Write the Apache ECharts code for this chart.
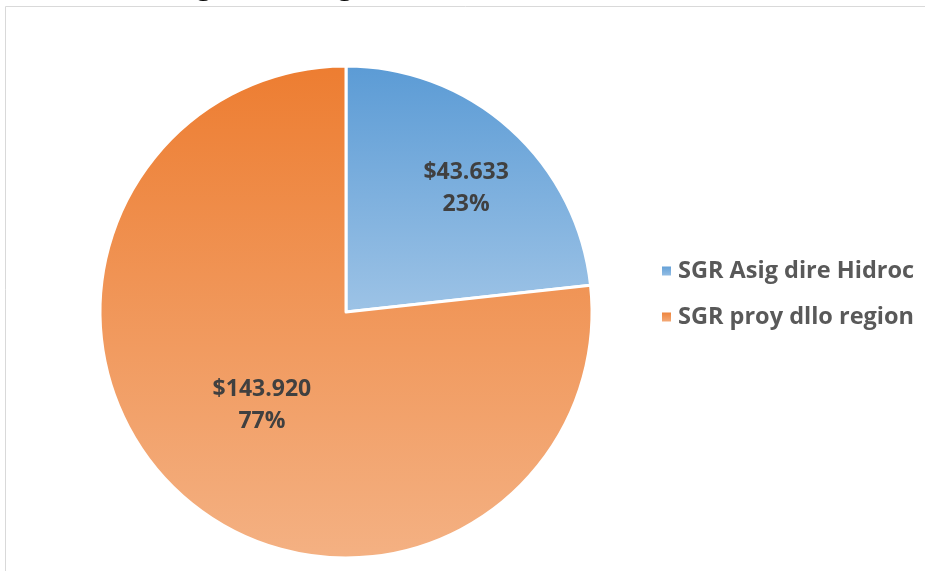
<!DOCTYPE html>
<html>
<head>
<meta charset="utf-8">
<script src="https://cdn.jsdelivr.net/npm/echarts@6/dist/echarts.min.js"></script>
<style>
    html, body { margin: 0; padding: 0; background: #fff; }
    #main { width: 925px; height: 571px; }
</style>
</head>
<body>
<div id="main"></div>
<script>
    var titleText = 'Asignación Regalías';
    var categories = ['SGR Asig dire Hidroc', 'SGR proy dllo region'];
    var values = [43633, 143920];

    var gradients = [
        ['#5b9bd5', '#9dc3e6'],
        ['#ed7d31', '#f4b183']
    ];

    function fmtMoney(v) {
        return '$' + String(v).replace(/\B(?=(\d{3})+(?!\d))/g, '.');
    };

    var pieData = [];
    for (var i = 0; i < categories.length; i++) {
        pieData.push({
            name: categories[i],
            value: values[i],
            itemStyle: {
                color: new echarts.graphic.LinearGradient(0, 0, 0, 1, [
                    { offset: 0, color: gradients[i][0] },
                    { offset: 1, color: gradients[i][1] }
                ])
            }
        });
    };

    var myChart = echarts.init(document.getElementById('main'));
    var option = {
        animation: false,
        graphic: [{
            type: 'rect',
            shape: { x: 5.5, y: 6.5, width: 1000, height: 1000 },
            style: { fill: 'none', stroke: '#d9d9d9', lineWidth: 1 }
        }, {
            type: 'text',
            x: 158,
            y: 1,
            style: {
                text: titleText,
                font: 'bold 26px "Open Sans"',
                fill: '#000',
                verticalAlign: 'bottom'
            }
        }],
        legend: {
            orient: 'vertical',
            left: 655,
            top: 254,
            itemWidth: 11,
            itemHeight: 11,
            itemGap: 22,
            icon: 'rect',
            textStyle: {
                fontFamily: 'Open Sans',
                fontWeight: 'bold',
                fontSize: 23.5,
                lineHeight: 24,
                color: '#595959',
                padding: [0, 0, 0, 1]
            },
            data: categories
        },
        series: [{
            type: 'pie',
            center: [346, 312],
            radius: 246,
            startAngle: 90,
            clockwise: true,
            itemStyle: { borderColor: '#fff', borderWidth: 3 },
            label: {
                show: true,
                position: 'inside',
                fontFamily: 'Open Sans',
                fontWeight: 'bold',
                fontSize: 23,
                lineHeight: 32,
                color: '#404040',
                formatter: function (p) {
                    return fmtMoney(p.value) + '\n' + Math.round(p.percent) + '%';
                }
            },
            labelLayout: function (p) {
                // Excel "best fit" pushes the small slice label outward
                if (p.dataIndex === 0) {
                    return { dx: 36, dy: -30 };
                };
                return {};
            },
            emphasis: { disabled: true },
            data: pieData
        }]
    };
    myChart.setOption(option);
</script>
</body>
</html>
